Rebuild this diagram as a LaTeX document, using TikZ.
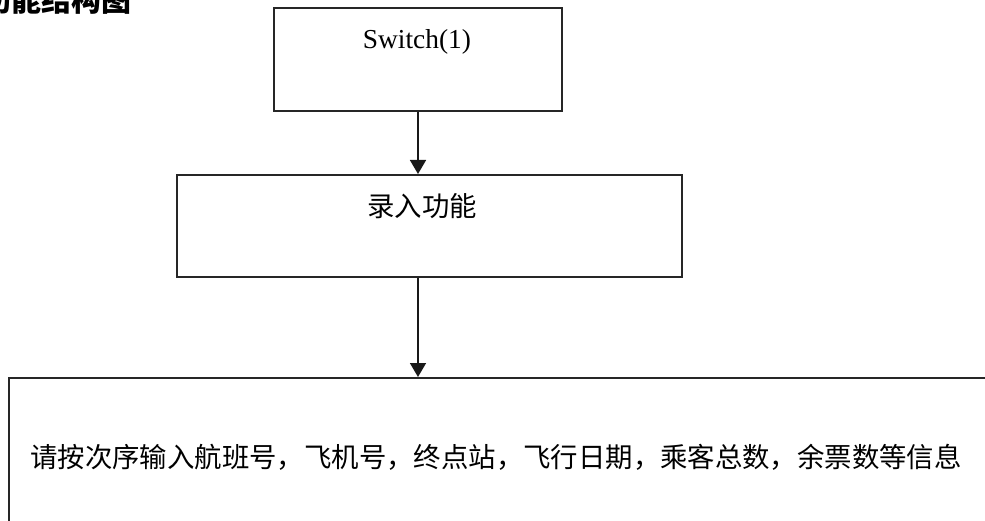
\documentclass[tikz,border=0pt]{standalone}
\usepackage{fontspec}
\setmainfont{Liberation Serif}
\newfontfamily\cjk{Noto Sans CJK SC}
\usetikzlibrary{arrows.meta}
\begin{document}
\begin{tikzpicture}[x=1pt,y=1pt,
  boxstyle/.style={draw=black!85, line width=2pt, rectangle, inner sep=0pt},
  arrowstyle/.style={draw=black!90, line width=1.6pt, -{Triangle[width=16pt,length=14pt]}},
  cjktext/.style={font=\cjk\fontsize{27.4}{30}\selectfont, inner sep=0pt},
  latintext/.style={font=\fontsize{27.4}{30}\selectfont, inner sep=0pt},
]
\useasboundingbox (0,0) rectangle (985,-521);
\clip (0,0) rectangle (985,-521);
% partially visible heading
\node[font=\cjk\bfseries\fontsize{30}{32}\selectfont, inner sep=0pt, anchor=south east] (title) at (132,-15) {功能结构图};
% boxes
\node[boxstyle, minimum width=288pt, minimum height=103pt] (b1) at (418,-59.5) {};
\node[boxstyle, minimum width=505pt, minimum height=102pt] (b2) at (429.5,-226) {};
\node[boxstyle, minimum width=991pt, minimum height=167pt] (b3) at (504.5,-461.5) {};
% texts
\node[latintext] (t1) at (417,-42) {Switch(1)};
\node[cjktext] (t2) at (422,-206) {录入功能};
\node[cjktext] (t3) at (496,-457) {请按次序输入航班号，飞机号，终点站，飞行日期，乘客总数，余票数等信息};
% connectors
\draw[arrowstyle] (b1.south) -- (b1.south |- b2.north);
\draw[arrowstyle] (b1.south |- b2.south) -- (b1.south |- b3.north);
\end{tikzpicture}
\end{document}
